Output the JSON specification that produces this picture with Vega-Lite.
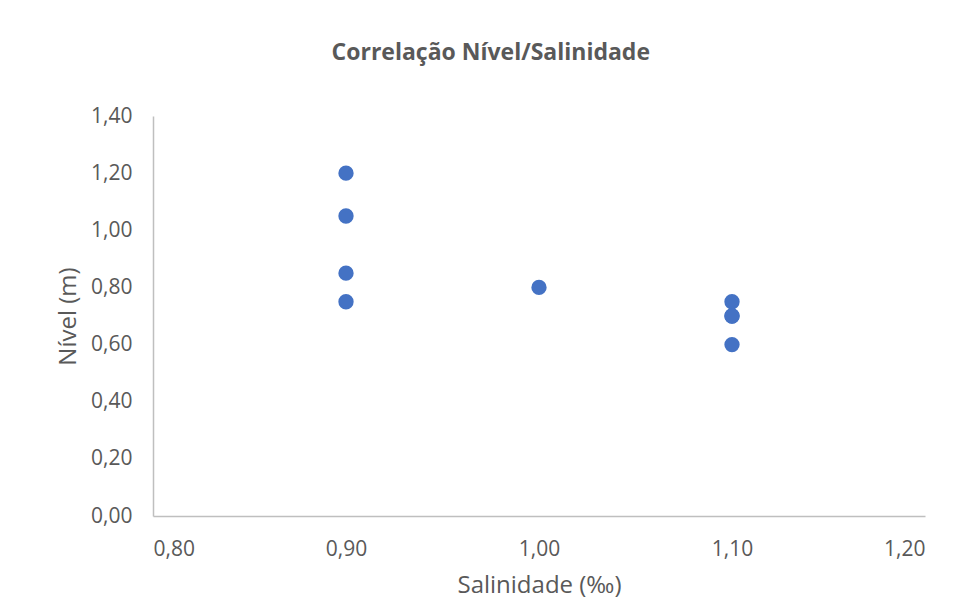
{
  "$schema": "https://vega.github.io/schema/vega-lite/v6.json",
  "width": 772,
  "height": 400,
  "autosize": {"type": "none"},
  "padding": {"left": 153, "top": 116, "right": 30, "bottom": 94},
  "background": "white",
  "title": {
    "text": "Correlação Nível/Salinidade",
    "font": "Open Sans",
    "fontSize": 23,
    "fontWeight": "bold",
    "color": "#595959",
    "anchor": "middle",
    "frame": "bounds",
    "offset": 40
  },
  "data": {
    "values": [
      {"salinidade": 0.9, "nivel": 1.2},
      {"salinidade": 0.9, "nivel": 1.05},
      {"salinidade": 0.9, "nivel": 0.85},
      {"salinidade": 0.9, "nivel": 0.75},
      {"salinidade": 1.0, "nivel": 0.8},
      {"salinidade": 1.1, "nivel": 0.75},
      {"salinidade": 1.1, "nivel": 0.7},
      {"salinidade": 1.1, "nivel": 0.7},
      {"salinidade": 1.1, "nivel": 0.6}
    ]
  },
  "mark": {"type": "circle", "size": 235, "color": "#4472C4", "opacity": 1},
  "encoding": {
    "x": {
      "field": "salinidade",
      "type": "quantitative",
      "scale": {"domain": [0.8, 1.2], "nice": false, "zero": false},
      "axis": {
        "title": "Salinidade (‰)",
        "values": [0.8, 0.9, 1.0, 1.1, 1.2],
        "labelExpr": "replace(format(datum.value, '.2f'), '.', ',')",
        "grid": false,
        "ticks": false,
        "labelPadding": 22,
        "titlePadding": 14,
        "domainColor": "#bfbfbf",
        "domainWidth": 1.5,
        "labelFont": "Open Sans",
        "labelFontSize": 21,
        "labelColor": "#595959",
        "titleFont": "Open Sans",
        "titleFontSize": 24,
        "titleFontWeight": "normal",
        "titleColor": "#595959"
      }
    },
    "y": {
      "field": "nivel",
      "type": "quantitative",
      "scale": {"domain": [0, 1.4], "nice": false},
      "axis": {
        "title": "Nível (m)",
        "values": [0, 0.2, 0.4, 0.6, 0.8, 1.0, 1.2, 1.4],
        "labelExpr": "replace(format(datum.value, '.2f'), '.', ',')",
        "grid": false,
        "ticks": false,
        "labelPadding": 21,
        "titlePadding": 10,
        "domainColor": "#bfbfbf",
        "domainWidth": 1.5,
        "labelFont": "Open Sans",
        "labelFontSize": 21,
        "labelColor": "#595959",
        "titleFont": "Open Sans",
        "titleFontSize": 24,
        "titleFontWeight": "normal",
        "titleColor": "#595959"
      }
    }
  },
  "config": {"view": {"stroke": null}}
}
